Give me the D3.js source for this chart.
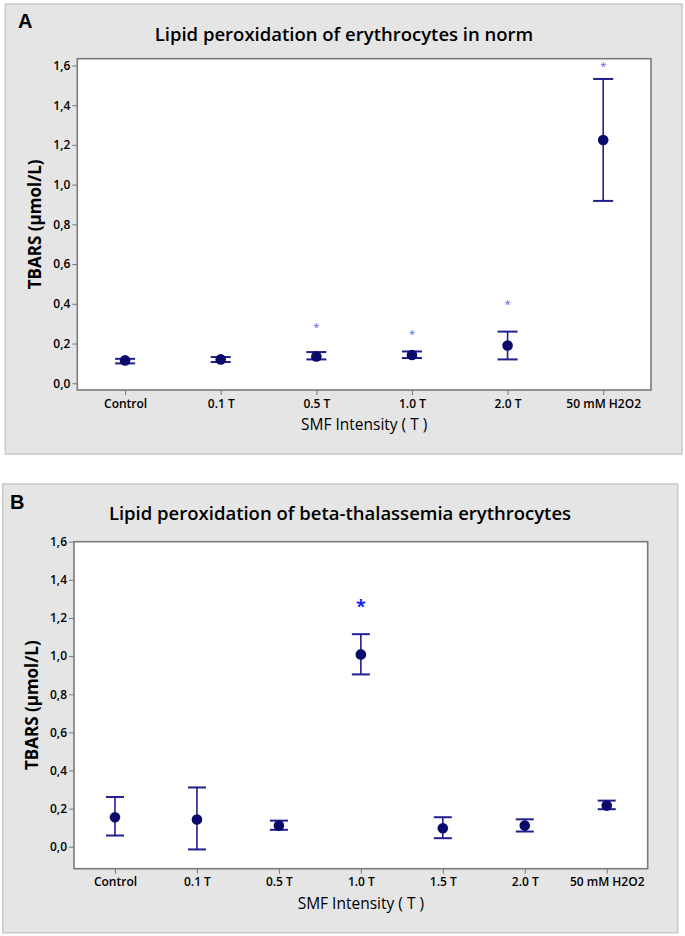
<!DOCTYPE html>
<html>
<head>
<meta charset="utf-8">
<script src="https://cdn.jsdelivr.net/npm/d3@7"></script>
<style>
  body { margin: 0; background: #fff; }
  svg text { font-family: "Open Sans", sans-serif; }
</style>
</head>
<body>
<div id="chart"></div>
<script>
// panel A: healthy erythrocytes
const catsA = ["Control", "0.1 T", "0.5 T", "1.0 T", "2.0 T", "50 mM H2O2"];
const meanA = [0.115, 0.120, 0.135, 0.142, 0.190, 1.225];
const lowA  = [0.100, 0.107, 0.120, 0.127, 0.120, 0.918];
const highA = [0.123, 0.132, 0.157, 0.160, 0.260, 1.532];
const starA = [null, null, 0.292, 0.257, 0.410, 1.607];

// panel B: beta-thalassemia erythrocytes
const catsB = ["Control", "0.1 T", "0.5 T", "1.0 T", "1.5 T", "2.0 T", "50 mM H2O2"];
const meanB = [0.155, 0.143, 0.111, 1.009, 0.097, 0.111, 0.216];
const lowB  = [0.059, -0.014, 0.089, 0.904, 0.045, 0.080, 0.197];
const highB = [0.261, 0.311, 0.137, 1.115, 0.155, 0.144, 0.242];
const starB = [null, null, null, 1.278, null, null, null];

const yTicks = [0, 0.2, 0.4, 0.6, 0.8, 1.0, 1.2, 1.4, 1.6];

const width = 685, height = 936;
const svg = d3.select("#chart").append("svg")
    .attr("width", width)
    .attr("height", height);

const fmt = d => d3.format(".1f")(d).replace(".", ",");

function drawPanel(cfg) {
    const g = svg.append("g");

    // gray background box
    g.append("rect")
        .attr("x", cfg.box[0]).attr("y", cfg.box[1])
        .attr("width", cfg.box[2]).attr("height", cfg.box[3])
        .attr("fill", "#e5e5e5")
        .attr("stroke", "#c8c8c8")
        .attr("stroke-width", 1.5);

    const x = d3.scalePoint()
        .domain(cfg.cats)
        .range([cfg.plot.left, cfg.plot.right])
        .padding(0.5);
    const y = d3.scaleLinear()
        .domain(cfg.yDomain)
        .range([cfg.plot.bottom, cfg.plot.top]);

    g.append("rect")
        .attr("x", cfg.plot.left).attr("y", cfg.plot.top)
        .attr("width", cfg.plot.right - cfg.plot.left)
        .attr("height", cfg.plot.bottom - cfg.plot.top)
        .attr("fill", "#fff");

    // axes
    const yAxis = g.append("g")
        .attr("transform", `translate(${cfg.plot.left},0)`)
        .call(d3.axisLeft(y).tickValues(yTicks).tickFormat(fmt).tickSize(5).tickPadding(2));
    const xAxis = g.append("g")
        .attr("transform", `translate(0,${cfg.plot.bottom})`)
        .call(d3.axisBottom(x).tickSize(5).tickPadding(4));
    [yAxis, xAxis].forEach(a => {
        a.select(".domain").remove();
        a.selectAll(".tick line").attr("stroke", "#777");
        a.selectAll(".tick text")
            .attr("fill", "#000")
            .style("font-size", "12px")
            .style("font-weight", 600);
    });

    // frame
    g.append("rect")
        .attr("x", cfg.plot.left).attr("y", cfg.plot.top)
        .attr("width", cfg.plot.right - cfg.plot.left)
        .attr("height", cfg.plot.bottom - cfg.plot.top)
        .attr("fill", "none")
        .attr("stroke", "#7a7a7a")
        .attr("stroke-width", 1.6);

    // error bars
    const bars = g.selectAll("g.err")
        .data(cfg.cats.map((c, i) => ({c, m: cfg.mean[i], lo: cfg.low[i], hi: cfg.high[i], s: cfg.star[i]})))
        .enter().append("g")
        .attr("class", "err");
    bars.append("line")
        .attr("x1", d => x(d.c)).attr("x2", d => x(d.c))
        .attr("y1", d => y(d.lo)).attr("y2", d => y(d.hi))
        .attr("stroke", "#1f1f8f").attr("stroke-width", 1.6);
    ["lo", "hi"].forEach(k => {
        bars.append("line")
            .attr("x1", d => x(d.c) - cfg.cap).attr("x2", d => x(d.c) + cfg.cap)
            .attr("y1", d => y(d[k])).attr("y2", d => y(d[k]))
            .attr("stroke", "#1f1f8f").attr("stroke-width", 2);
    });
    bars.append("circle")
        .attr("cx", d => x(d.c)).attr("cy", d => y(d.m))
        .attr("r", 5.3)
        .attr("fill", "#0a0a6b");

    // significance stars
    g.selectAll("text.star")
        .data(bars.data().filter(d => d.s !== null))
        .enter().append("text")
        .attr("class", "star")
        .attr("x", d => x(d.c))
        .attr("y", d => y(d.s) + cfg.starSize * 0.55)
        .attr("text-anchor", "middle")
        .attr("fill", cfg.starColor)
        .style("font-size", cfg.starSize + "px")
        .style("font-weight", cfg.starWeight)
        .text("*");

    // titles
    g.append("text")
        .attr("x", cfg.titleX).attr("y", cfg.titleY)
        .attr("text-anchor", "middle")
        .attr("fill", "#000")
        .style("font-size", "18.5px")
        .style("font-weight", 600)
        .text(cfg.title);
    g.append("text")
        .attr("x", cfg.letterX).attr("y", cfg.letterY)
        .attr("fill", "#000")
        .style("font-family", "Liberation Sans, Arial, sans-serif")
        .style("font-size", "20px")
        .style("font-weight", "bold")
        .text(cfg.letter);
    g.append("text")
        .attr("x", (cfg.plot.left + cfg.plot.right) / 2)
        .attr("y", cfg.plot.bottom + 40)
        .attr("text-anchor", "middle")
        .attr("fill", "#000")
        .style("font-size", "15.5px")
        .text("SMF Intensity ( T )");
    g.append("text")
        .attr("transform", `translate(${cfg.yTitleX},${(cfg.plot.top + cfg.plot.bottom) / 2}) rotate(-90)`)
        .attr("text-anchor", "middle")
        .attr("fill", "#000")
        .style("font-size", "17px")
        .style("font-weight", "bold")
        .text("TBARS (µmol/L)");
}

drawPanel({
    box: [5.3, 4, 676.7, 450],
    plot: {left: 77.3, right: 651, top: 58.7, bottom: 390},
    yDomain: [-0.034, 1.634],
    cats: catsA, mean: meanA, low: lowA, high: highA, star: starA,
    cap: 10, starSize: 11, starColor: "#5c5cf5", starWeight: "normal",
    title: "Lipid peroxidation of erythrocytes in norm",
    titleX: 344, titleY: 40.5,
    letter: "A", letterX: 18, letterY: 27.5,
    yTitleX: 41
});

drawPanel({
    box: [2.7, 484, 675, 448.7],
    plot: {left: 74, right: 647.7, top: 541.7, bottom: 868.7},
    yDomain: [-0.115, 1.6],
    cats: catsB, mean: meanB, low: lowB, high: highB, star: starB,
    cap: 9, starSize: 18, starColor: "#1c1cf0", starWeight: "bold",
    title: "Lipid peroxidation of beta-thalassemia erythrocytes",
    titleX: 340, titleY: 519.5,
    letter: "B", letterX: 10, letterY: 508.5,
    yTitleX: 38
});
</script>
</body>
</html>
